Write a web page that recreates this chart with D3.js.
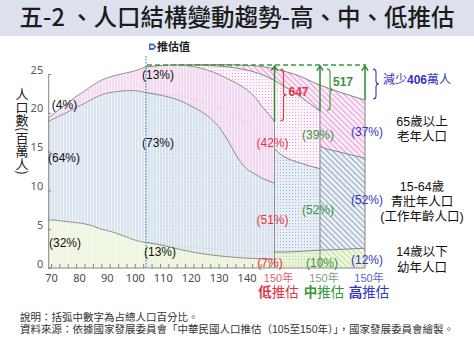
<!DOCTYPE html>
<html><head><meta charset="utf-8">
<script src="https://cdn.jsdelivr.net/npm/d3@7"></script>
<style>
body{margin:0;background:#fff;}
svg{display:block;font-family:"Liberation Sans","Noto Sans CJK TC",sans-serif;}
</style></head><body>
<svg id="chart" width="474" height="355"></svg>
<script>
// ---------- data (values in millions) ----------
const histYears    = [69,70,73,76,79,82,85,88,91,94,97,100,102,104];
const histChildren = [6.2,6.2,6.1,5.97,5.85,5.7,5.4,5.0,4.75,4.4,4.0,3.6,3.4,3.3];
const histWorking  = [12.65,12.85,13.5,14.13,14.85,15.5,16.4,17.3,17.85,18.35,18.85,19.25,19.35,19.3];
const histElderly  = [0.45,0.55,0.85,1.15,1.4,1.6,1.75,1.9,2.0,2.15,2.3,2.55,2.9,3.3];

const lowYears    = [104,108,112,116,120,124,128,132,134,136,138,140,143,146,148,150];
const lowChildren = [3.3,3.05,2.75,2.4,2.1,1.85,1.65,1.5,1.43,1.37,1.32,1.27,1.22,1.17,1.14,1.12];
const lowWorking  = [19.3,19.3,19.3,19.2,18.8,18.25,17.35,15.7,14.57,13.33,12.28,11.53,10.88,10.33,10.06,9.83];
const lowElderly  = [3.3,3.7,4.1,4.55,5.1,5.6,6.25,7.4,8.25,9.2,9.85,10.2,9.9,9.1,8.6,7.9];

const projYears   = [104,108,112,116,120,124,128,132,136,140,145,150];
const midChildren = [3.3,3.08,2.85,2.65,2.5,2.37,2.25,2.15,2.08,2.05,2.15,2.3];
const midWorking  = [19.3,19.37,19.4,19.25,18.85,18.23,17.25,15.95,14.22,12.45,11.35,10.5];
const midElderly  = [3.3,3.6,3.9,4.25,4.75,5.4,6.25,7.25,8.35,9.1,8.5,7.4];
const highChildren= [3.3,3.12,2.95,2.8,2.65,2.52,2.42,2.35,2.3,2.3,2.4,2.55];
const highWorking = [19.3,19.38,19.4,19.3,19.05,18.58,17.78,16.65,15.2,13.5,12.5,11.6];
const highElderly = [3.3,3.55,3.8,4.1,4.5,5.05,5.8,6.5,7.3,7.9,7.7,7.5];

const baseTotal = 26.15;                 // level of the dashed reference line
const decreaseLabels = ["647","517","減少406萬人"];
const histShares = ["(4%)","(64%)","(32%)"];
const baseShares = ["(13%)","(73%)","(13%)"];
const lowShares  = ["(42%)","(51%)","(7%)"];
const midShares  = ["(39%)","(52%)","(10%)"];
const highShares = ["(37%)","(52%)","(12%)"];
const yTicks = [0,5,10,15,20,25];
const xLabelYears = [70,80,90,100,110,120,130,140];
const scenarioChars = ["低","中","高"];
const legendLines = [["65歲以上","老年人口"],["15-64歲","青壯年人口","(工作年齡人口)"],["14歲以下","幼年人口"]];

// ---------- setup ----------
const svg = d3.select("#chart");
const keys = ["children","working","elderly"];
const red="#e8323f", green="#35963a", blue="#3535c4";
const scColors=[red,green,blue];

const x = d3.scaleLinear().domain([69,150]).range([48.2,274.5]);
const xMid = d3.scaleLinear().domain([104,150]).range([x(104),320]);
const xHigh = d3.scaleLinear().domain([104,150]).range([x(104),365]);
const y = d3.scaleLinear().domain([0,25]).range([268,74]);

// patterns
const defs = svg.append("defs");
function pat(id,bg,fg,type){
  const size = type==="diag"?4:3;
  const p = defs.append("pattern").attr("id",id).attr("patternUnits","userSpaceOnUse")
    .attr("width",size).attr("height",size);
  if(type==="diag") p.attr("patternTransform","rotate(-45)");
  p.append("rect").attr("width",size).attr("height",size).attr("fill",bg);
  if(type==="v") p.append("rect").attr("x",0).attr("width",1).attr("height",size).attr("fill",fg);
  if(type==="dot") p.append("rect").attr("x",1).attr("y",1).attr("width",1).attr("height",1).attr("fill",fg);
  if(type==="diag") p.append("rect").attr("x",0).attr("width",1.1).attr("height",size).attr("fill",fg);
}
pat("lc","#ecf4dc","#f6faee","v");
pat("lw","#d7e2ee","#eef3f8","v");
pat("le","#f2d8ef","#fbedf9","v");
pat("mc","#e9f3d8","#bcd69a","dot");
pat("mw","#e8eef6","#a3b7cf","dot");
pat("me","#fcf3fb","#e2a9da","dot");
pat("hc","#f1f8e4","#c6dd9c","diag");
pat("hw","#eef2f7","#93a8c2","diag");
pat("he","#fcedf9","#e6a2dd","diag");

// title band
svg.append("rect").attr("x",0).attr("y",0).attr("width",474).attr("height",36).attr("fill","#dde1ee");
svg.append("text").attr("x",237).attr("y",26).attr("text-anchor","middle")
  .attr("font-family","Noto Sans CJK TC, sans-serif")
  .attr("font-size",23.5).attr("font-weight",500).attr("fill","#1c1c1c")
  .text("五-2 、人口結構變動趨勢-高、中、低推估");

function rows(years,c,w,e){return years.map((yr,i)=>({year:yr,children:c[i],working:w[i],elderly:e[i]}));}
const stack = d3.stack().keys(keys);

function drawScenario(data,sx,pats,opacity){
  const g = svg.append("g").attr("opacity",opacity);
  const series = stack(data);
  const area = d3.area().x(d=>sx(d.data.year)).y0(d=>y(d[0])).y1(d=>y(d[1])).curve(d3.curveMonotoneX);
  g.selectAll("path.a").data(series).join("path").attr("class","a")
    .attr("d",area).attr("fill",(d,i)=>`url(#${pats[i]})`);
  const line = d3.line().x(d=>sx(d.data.year)).y(d=>y(d[1])).curve(d3.curveMonotoneX);
  g.selectAll("path.l").data(series).join("path").attr("class","l")
    .attr("d",line).attr("fill","none").attr("stroke","#858585").attr("stroke-width",1);
  const last = data[data.length-1];
  const tot = last.children+last.working+last.elderly;
  g.append("line").attr("x1",sx(last.year)).attr("x2",sx(last.year))
    .attr("y1",y(0)).attr("y2",y(tot)).attr("stroke","#858585").attr("stroke-width",1);
  return tot;
}

const highRows = rows(projYears,highChildren,highWorking,highElderly);
const midRows  = rows(projYears,midChildren,midWorking,midElderly);
const lowRows  = rows(histYears,histChildren,histWorking,histElderly)
  .concat(rows(lowYears,lowChildren,lowWorking,lowElderly).slice(1));

const totHigh = drawScenario(highRows,xHigh,["hc","hw","he"],1);
const totMid  = drawScenario(midRows,xMid,["mc","mw","me"],1);
const totLow  = drawScenario(lowRows,x,["lc","lw","le"],0.9);
const totals=[totLow,totMid,totHigh];
const scales=[x,xMid,xHigh];

// axes
const axisColor="#868686";
const yAx = svg.append("g").attr("transform",`translate(${x(69)},0)`)
  .call(d3.axisLeft(y).tickValues(yTicks).tickSizeInner(-3).tickSizeOuter(0).tickPadding(5));
yAx.select(".domain").attr("stroke",axisColor);
yAx.selectAll(".tick line").attr("stroke",axisColor);
yAx.selectAll("text").attr("fill","#595959").attr("font-size",11).attr("dy","-0.08em")
  .attr("font-family","Noto Sans, sans-serif");

const xTickAx = svg.append("g").attr("transform",`translate(0,${y(0)})`)
  .call(d3.axisBottom(x).tickValues(d3.range(70,149,3)).tickSizeInner(-4).tickSizeOuter(0).tickFormat(""));
xTickAx.select(".domain").remove();
xTickAx.selectAll(".tick line").attr("stroke",axisColor);
svg.append("line").attr("x1",x(69)).attr("x2",xHigh(150)).attr("y1",y(0)).attr("y2",y(0))
  .attr("stroke",axisColor).attr("stroke-width",1);
const xLabAx = svg.append("g").attr("transform",`translate(0,${y(0)})`)
  .call(d3.axisBottom(x).tickValues(xLabelYears).tickSize(0).tickPadding(6));
xLabAx.select(".domain").remove();
xLabAx.selectAll("text").attr("fill","#4a4a4a").attr("font-size",11).attr("font-family","Noto Sans, sans-serif");

// 150年 labels and scenario names
const lblColors=["#e3606d","#7f9f80","#5a68c4"];
scales.forEach((s,i)=>{
  svg.append("text").attr("x",s(150)+4).attr("y",282).attr("text-anchor","middle")
    .attr("font-size",11).attr("fill",lblColors[i]).text("150年");
  const t = svg.append("text").attr("x",s(150)+4).attr("y",297).attr("text-anchor","middle")
    .attr("font-size",13.5).attr("fill",scColors[i]);
  t.append("tspan").attr("font-weight",700).text(scenarioChars[i]);
  t.append("tspan").text("推估");
});

// projection start marker
svg.append("line").attr("x1",x(104)).attr("x2",x(104)).attr("y1",56).attr("y2",y(0))
  .attr("stroke","#4f81bd").attr("stroke-width",1.2).attr("stroke-dasharray","1.5,1.5");
svg.append("path").attr("d",`M${x(104)+3},43.5h4.5l3,3.2l-3,3.2h-4.5z`).attr("fill","#3f6fc6");
svg.append("path").attr("d",`M${x(104)+4.5},45.5h2.5l1.5,1.2l-1.5,1.2h-2.5z`).attr("fill","#fff");
svg.append("text").attr("x",x(104)+11).attr("y",51).attr("font-size",11).attr("font-weight",700)
  .attr("fill","#222").text("推估值");

// dashed reference line
const yb = y(baseTotal);
svg.append("line").attr("x1",x(104)+1).attr("x2",xHigh(150)+1).attr("y1",yb).attr("y2",yb)
  .attr("stroke","#3a9a3a").attr("stroke-width",1.5).attr("stroke-dasharray","5,3");

// arrows & braces
const braceOff=[6,7,8], textOff=[14,13,18], textY=[91.5,81.5,80];
function brace(xp,y1,y2,w){
  const ym=(y1+y2)/2;
  return `M${xp},${y1} Q${xp+w},${y1} ${xp+w},${y1+w} L${xp+w},${ym-w} Q${xp+w},${ym} ${xp+2*w},${ym} `+
         `Q${xp+w},${ym} ${xp+w},${ym+w} L${xp+w},${y2-w} Q${xp+w},${y2} ${xp},${y2}`;
}
scales.forEach((s,i)=>{
  const xe=s(150), yt=y(totals[i]);
  svg.append("line").attr("x1",xe).attr("x2",xe).attr("y1",yt).attr("y2",yb+1)
    .attr("stroke","#2d8a2d").attr("stroke-width",1.5);
  svg.append("path").attr("d",`M${xe-3.2},${yb+5.5}L${xe},${yb+1}L${xe+3.2},${yb+5.5}`)
    .attr("fill","none").attr("stroke","#2d8a2d").attr("stroke-width",1.4);
  svg.append("path").attr("d",brace(xe+braceOff[i],yb+4,yt-1,3))
    .attr("fill","none").attr("stroke",scColors[i]).attr("stroke-width",1.1);
  const t=svg.append("text").attr("x",xe+textOff[i]).attr("y",textY[i]).attr("dy","0.35em")
    .attr("font-size",12).attr("fill",scColors[i]);
  if(i<2){ t.attr("font-weight",700).text(decreaseLabels[i]); }
  else {
    const m = decreaseLabels[i].match(/^(\D*)(\d+)(\D*)$/);
    t.append("tspan").text(m[1]); t.append("tspan").attr("font-weight",700).text(m[2]); t.append("tspan").text(m[3]);
  }
});

// share labels
function shares(arr,pos,color){
  arr.forEach((s,i)=>svg.append("text").attr("x",pos[i][0]).attr("y",pos[i][1]).attr("dy","0.35em")
    .attr("text-anchor","middle").attr("font-size",12).attr("fill",color).text(s));
}
shares(histShares,[[64.5,105],[64,158],[65,243]],"#111");
shares(baseShares,[[158,75],[158,143],[160,252]],"#111");
shares(lowShares,[[272.5,143],[272.5,220],[270,263]],red);
shares(midShares,[[318,135],[318,210],[322,263]],green);
shares(highShares,[[367,132],[367,200],[367,260]],blue);

// right legend text
const legBase=[[126,141],[191,206,221],[256,272]];
legendLines.forEach((grp,gi)=>grp.forEach((txt,li)=>{
  svg.append("text").attr("x",422).attr("y",legBase[gi][li]).attr("text-anchor","middle")
    .attr("font-size",12.5).attr("fill","#111").text(txt);
}));

// y axis title (vertical)
svg.append("text").attr("x",22).attr("y",88).attr("font-size",13).attr("fill","#222")
  .attr("font-family","Noto Sans CJK TC, sans-serif")
  .style("writing-mode","vertical-rl").style("text-orientation","mixed").text("人口數(百萬人)");

// notes
svg.append("text").attr("x",20).attr("y",320.5).attr("font-size",10.5).attr("fill","#333")
  .text("說明：括弧中數字為占總人口百分比。");
svg.append("text").attr("x",20).attr("y",332.5).attr("font-size",10.5).attr("fill","#333")
  .text("資料來源：依據國家發展委員會「中華民國人口推估（105至150年）」，國家發展委員會繪製。");
</script>
</body></html>
